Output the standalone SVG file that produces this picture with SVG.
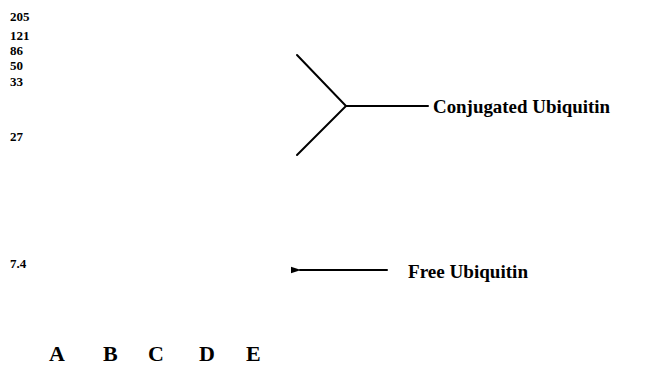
<svg xmlns="http://www.w3.org/2000/svg" width="647" height="367" viewBox="0 0 647 367">
<defs>
<style>
text{font-family:"Liberation Serif","Times New Roman",serif;font-weight:bold;fill:#000}
.mw{font-size:13px}
.lbl{font-size:19px}
.lane{font-size:22px}
.ln{stroke:#000;stroke-width:2;fill:none;stroke-linecap:round}
</style>
<marker id="ah" markerWidth="10" markerHeight="8" refX="1" refY="4" orient="auto" markerUnits="userSpaceOnUse">
<path d="M10,0.8 L0,4 L10,7.2 Z" fill="#000"/>
</marker>
</defs>
<rect width="647" height="367" fill="#fff"/>
<g id="mw-markers">
<text class="mw" x="10" y="21">205</text>
<text class="mw" x="10" y="40">121</text>
<text class="mw" x="10" y="55">86</text>
<text class="mw" x="10" y="70">50</text>
<text class="mw" x="10" y="86">33</text>
<text class="mw" x="10" y="141">27</text>
<text class="mw" x="10" y="268">7.4</text>
</g>
<g id="conjugated">
<text class="lbl" x="433" y="113" textLength="177" lengthAdjust="spacingAndGlyphs">Conjugated Ubiquitin</text>
</g>
<g id="free">
<text class="lbl" x="408" y="278" textLength="120" lengthAdjust="spacingAndGlyphs">Free Ubiquitin</text>
</g>
<g id="lanes">
<text class="lane" x="49" y="361">A</text>
<text class="lane" x="103" y="361">B</text>
<text class="lane" x="148" y="361">C</text>
<text class="lane" x="199" y="361">D</text>
<text class="lane" x="246" y="361">E</text>
</g>
<g id="connectors">
<path class="ln" d="M297,55 L346,106 L297,155"/>
<path class="ln" d="M346,106 L428,106"/>
<line class="ln" x1="387" y1="270" x2="300" y2="270" marker-end="url(#ah)"/>
</g>
</svg>
